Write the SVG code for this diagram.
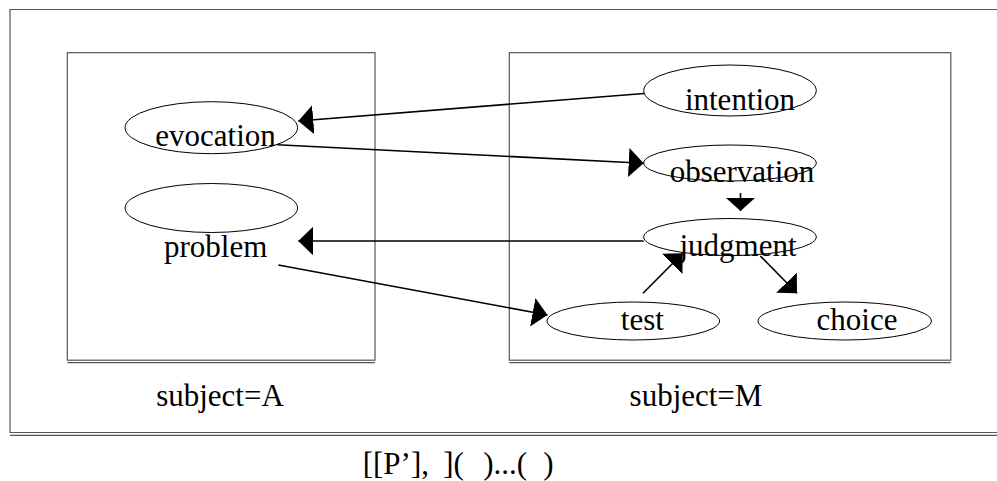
<svg xmlns="http://www.w3.org/2000/svg" width="997" height="481" viewBox="0 0 997 481">
<style>
  .frame { fill: none; stroke: #555; stroke-width: 1.2; }
  .node ellipse { fill: none; stroke: #000; stroke-width: 1; }
  .lbl { font-family: "Liberation Serif", "Times New Roman", serif; font-size: 31px; fill: #000; text-anchor: middle; }
  .edge { fill: none; stroke: #000; stroke-width: 1.6; }
</style>
<defs>
  <marker id="ah" viewBox="0 0 15 29" refX="15" refY="14.5" markerWidth="15" markerHeight="29" markerUnits="userSpaceOnUse" orient="auto">
    <path d="M0,0 L15,14.5 L0,29 Z" fill="#000"/>
  </marker>
  <marker id="ahs" viewBox="0 0 13 29" refX="13" refY="14.5" markerWidth="13" markerHeight="29" markerUnits="userSpaceOnUse" orient="auto">
    <path d="M0,0 L13,14.5 L0,29 Z" fill="#000"/>
  </marker>
</defs>
<rect width="997" height="481" fill="#fff"/>
<g id="outer-frame">
  <path class="frame" d="M997,9.5 L10,9.5 L10,433"/>
  <path class="frame" d="M10,432.5 L997,432.5 M10,435.3 L997,435.3"/>
</g>
<g id="subject-A">
  <rect class="frame" x="67.3" y="52.7" width="307.7" height="307.5"/>
  <line class="frame" x1="67.3" y1="362.6" x2="375" y2="362.6"/>
  <text class="lbl" x="220" y="405.5">subject=A</text>
</g>
<g id="subject-M">
  <rect class="frame" x="509.3" y="52.7" width="441.5" height="307.5"/>
  <line class="frame" x1="509.3" y1="362.6" x2="950.8" y2="362.6"/>
  <text class="lbl" x="696" y="405.5">subject=M</text>
</g>
<g id="evocation" class="node">
  <ellipse cx="211.3" cy="127.7" rx="86.3" ry="26"/>
  <text class="lbl" x="215.5" y="145.7">evocation</text>
</g>
<g id="problem" class="node">
  <ellipse cx="211.3" cy="208" rx="86.3" ry="24.5"/>
  <text class="lbl" x="215.7" y="256.7">problem</text>
</g>
<g id="intention" class="node">
  <ellipse cx="730" cy="90.5" rx="86.3" ry="25.5"/>
  <text class="lbl" x="740" y="110">intention</text>
</g>
<g id="observation" class="node">
  <ellipse cx="730" cy="163" rx="86.3" ry="18"/>
  <text class="lbl" x="742" y="182">observation</text>
</g>
<g id="judgment" class="node">
  <ellipse cx="730" cy="237" rx="86.3" ry="18.5"/>
  <text class="lbl" x="738" y="256">judgment</text>
</g>
<g id="test" class="node">
  <ellipse cx="633.3" cy="321" rx="86.3" ry="19"/>
  <text class="lbl" x="642.3" y="330">test</text>
</g>
<g id="choice" class="node">
  <ellipse cx="844.7" cy="321" rx="86.7" ry="19"/>
  <text class="lbl" x="857" y="330">choice</text>
</g>
<g id="connectors">
  <line class="edge" x1="644" y1="93.5" x2="298.3" y2="121" marker-end="url(#ah)"/>
  <line class="edge" x1="277.3" y1="144.7" x2="643.7" y2="163.3" marker-end="url(#ah)"/>
  <line class="edge" x1="740.5" y1="193" x2="740.5" y2="211" marker-end="url(#ahs)"/>
  <line class="edge" x1="643.7" y1="241" x2="298.3" y2="241" marker-end="url(#ah)"/>
  <line class="edge" x1="278.3" y1="265" x2="547.5" y2="315" marker-end="url(#ah)"/>
  <line class="edge" x1="643" y1="293.3" x2="682.7" y2="253.3" marker-end="url(#ah)"/>
  <line class="edge" x1="760.3" y1="256" x2="797" y2="293.3" marker-end="url(#ah)"/>
</g>
<g id="caption">
  <text class="lbl" style="text-anchor:start" y="474"><tspan x="362.7">[[P’],</tspan><tspan x="443.3">](</tspan><tspan x="483.3">)...(</tspan><tspan x="543.3">)</tspan></text>
</g>
</svg>
